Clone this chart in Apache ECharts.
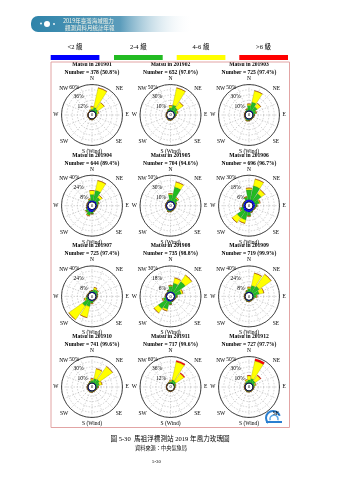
<!DOCTYPE html>
<html>
<head>
<meta charset="utf-8">
<script src="https://cdn.jsdelivr.net/npm/echarts@6/dist/echarts.min.js"></script>
<style>
html, body { margin: 0; padding: 0; background: #fff; }
#chart { width: 339px; height: 480px; }
</style>
</head>
<body>
<div id="chart"></div>
<script>
// Wind direction sectors, clockwise from north
const directions = ['N', 'NNE', 'NE', 'ENE', 'E', 'ESE', 'SE', 'SSE', 'S', 'SSW', 'SW', 'WSW', 'W', 'WNW', 'NW', 'NNW'];
// Beaufort speed classes
const speedClasses = ['<2 級', '2-4 級', '4-6 級', '>6 級'];
const classColors = ['#0000ff', '#22bb22', '#ffff00', '#ff0000'];
const classEdges = ['#00007a', '#0b6e0b', '#8f8f00', '#8b0000'];

const months = ['201901', '201902', '201903', '201904', '201905', '201906',
                '201907', '201908', '201909', '201910', '201911', '201912'];
const counts = [378, 652, 725, 644, 704, 696, 725, 735, 719, 741, 717, 727];
const coverage = ['50.8', '97.0', '97.4', '89.4', '94.6', '96.7', '97.4', '98.8', '99.9', '99.6', '99.6', '97.7'];
// Outer ring value (%) of each rose
const scaleMax = [60, 50, 50, 40, 50, 30, 40, 30, 40, 50, 60, 50];

// Frequency (%) per direction, one row per speed class: <2, 2-4, 4-6, >6
const m201901 = [
  [1, 1, 1, 0.8, 0.6, 0.5, 0.5, 0.6, 1, 1, 0.8, 0.6, 0.5, 0.5, 0.6, 0.8],
  [3, 8, 6, 3, 1, 0.3, 0.2, 0.3, 0.8, 0.8, 0.4, 0.2, 0, 0, 0.2, 1],
  [6, 45, 18, 3, 0.5, 0, 0, 0, 0, 0, 0, 0, 0, 0, 0, 1],
  [0, 0, 0, 0, 0, 0, 0, 0, 0, 0, 0, 0, 0, 0, 0, 0]
];
const m201902 = [
  [1.2, 1, 1, 1, 1, 0.8, 0.8, 1, 1.5, 1.5, 1, 0.8, 0.6, 0.6, 0.8, 1],
  [5, 11, 8, 4, 2, 1, 0.5, 0.5, 1, 1, 0.5, 0.3, 0.2, 0.2, 0.5, 2],
  [4, 33, 13, 2, 0.3, 0, 0, 0, 0, 0, 0, 0, 0, 0, 0, 0.5],
  [0, 0, 0, 0, 0, 0, 0, 0, 0, 0, 0, 0, 0, 0, 0, 0]
];
const m201903 = [
  [1.5, 1.5, 1.5, 1.2, 1, 1, 1, 1.2, 1.5, 1.5, 1.2, 1, 0.8, 0.8, 1, 1.2],
  [9, 16, 10, 5, 2, 1, 0.5, 0.8, 2, 2.5, 1, 0.5, 0.3, 0.3, 0.8, 3],
  [3, 22, 8, 1, 0, 0, 0, 0, 0, 0.5, 0, 0, 0, 0, 0, 0.5],
  [0, 0, 0, 0, 0, 0, 0, 0, 0, 0, 0, 0, 0, 0, 0, 0]
];
const m201904 = [
  [2, 2, 2, 1.5, 1.5, 1.5, 1.5, 2, 3.5, 4, 3, 2, 1.5, 1.5, 1.5, 2],
  [9, 16, 7, 3, 1, 0.5, 0.5, 1, 3, 5, 3, 1, 0.3, 0.3, 0.5, 2],
  [6, 15, 4, 0.5, 0, 0, 0, 0, 0, 1, 0.5, 0, 0, 0, 0, 1],
  [0, 0, 0, 0, 0, 0, 0, 0, 0, 0, 0, 0, 0, 0, 0, 0]
];
const m201905 = [
  [1.5, 1.5, 1.5, 1.5, 1.5, 1.5, 1.5, 1.5, 2, 2, 1.5, 1.5, 1.5, 1.5, 1.5, 1.5],
  [12, 27, 8, 3, 1, 0.5, 0.5, 1, 2, 2.5, 1, 0.5, 0.3, 0.3, 0.5, 2],
  [2, 10, 2, 0, 0, 0, 0, 0, 0, 0.3, 0, 0, 0, 0, 0, 0],
  [0, 0, 0, 0, 0, 0, 0, 0, 0, 0, 0, 0, 0, 0, 0, 0]
];
const m201906 = [
  [2.5, 2.5, 2.5, 2.5, 2.5, 2, 2, 2.5, 3, 3, 3, 2.5, 2, 2, 2, 2.5],
  [11, 16, 10, 5, 2, 1, 0.5, 1, 4, 9, 9, 3, 1, 0.5, 0.5, 3],
  [2, 8, 5, 1, 0, 0, 0, 0, 0.5, 4, 7, 1, 0, 0, 0, 0.5],
  [0, 0, 0, 0, 0, 0, 0, 0, 0, 0, 0, 0, 0, 0, 0, 0]
];
const m201907 = [
  [1, 1, 1, 1, 1, 1, 1, 1, 1, 1, 1, 1, 1, 0.8, 0.8, 1],
  [2, 4, 4, 2, 1, 0.5, 0.3, 0.5, 3, 9, 11, 3, 1, 0.3, 0.3, 1],
  [0, 3, 1, 0, 0, 0, 0, 0, 1, 17, 25, 2, 0, 0, 0, 0],
  [0, 0, 0, 0, 0, 0, 0, 0, 0, 0, 0, 0, 0, 0, 0, 0]
];
const m201908 = [
  [1, 1, 1, 1, 1, 1, 1, 1, 1.5, 1.5, 1.5, 1, 1, 1, 1, 1],
  [6, 10, 15, 7, 2, 0.5, 0.3, 0.5, 3, 9, 11, 3, 0.5, 0.3, 0.3, 2],
  [1, 6, 9, 2, 0, 0, 0, 0, 0, 2, 6, 1, 0, 0, 0, 0],
  [0, 0, 0, 0, 0, 0, 0, 0, 0, 0, 0, 0, 0, 0, 0, 0]
];
const m201909 = [
  [1, 1, 1, 1, 1, 0.8, 0.8, 0.8, 1, 1, 0.8, 0.8, 0.8, 0.8, 0.8, 1],
  [5, 10, 12, 9, 4, 1, 0.5, 0.5, 1, 1, 0.5, 0.3, 0.3, 0.3, 0.5, 2],
  [2, 19, 22, 7, 1, 0, 0, 0, 0, 0, 0, 0, 0, 0, 0, 0.5],
  [0, 0, 0, 0, 0, 0, 0, 0, 0, 0, 0, 0, 0, 0, 0, 0]
];
const m201910 = [
  [1, 1, 1, 1, 1, 1, 1, 1, 1.5, 1.5, 1.5, 1.5, 1.5, 1, 1, 1],
  [4, 8, 9, 6, 3, 1, 0.5, 0.5, 1, 1, 0.5, 0.3, 0.3, 0.3, 0.5, 2],
  [3, 19, 30, 5, 0.5, 0, 0, 0, 0, 0, 0, 0, 0, 0, 0, 0.5],
  [0, 0, 0, 0, 0, 0, 0, 0, 0, 0, 0, 0, 0, 0, 0, 0]
];
const m201911 = [
  [0.5, 0.5, 0.5, 0.5, 0.5, 0.4, 0.4, 0.4, 0.5, 0.5, 0.4, 0.4, 0.4, 0.4, 0.4, 0.5],
  [3, 7, 6, 2, 1, 0.3, 0.2, 0.2, 0.3, 0.3, 0.2, 0, 0, 0, 0.2, 1],
  [3, 42, 22, 1, 0, 0, 0, 0, 0, 0, 0, 0, 0, 0, 0, 0.5],
  [0, 3, 2, 0, 0, 0, 0, 0, 0, 0, 0, 0, 0, 0, 0, 0]
];
const m201912 = [
  [1, 1, 1, 1, 1, 1, 1, 1, 1, 1, 1, 1, 1, 1, 1, 1],
  [5, 8, 6, 3, 1, 0.5, 0.3, 0.5, 1, 1, 0.5, 0.3, 0.3, 0.3, 1, 3],
  [8, 34, 12, 2, 0, 0, 0, 0, 0, 0, 0, 0, 0, 0, 0.5, 3],
  [0, 4, 1, 0, 0, 0, 0, 0, 0, 0, 0, 0, 0, 0, 0, 0]
];
const monthValues = [m201901, m201902, m201903, m201904, m201905, m201906,
                     m201907, m201908, m201909, m201910, m201911, m201912];

// Page layout
const colX = [92, 170.5, 249];
const rowY = [115, 205.7, 296.4, 387];
const R_OUT = 30.5;
const R_IN = 4;
const SERIF = "'Liberation Serif', 'Times New Roman', serif";
const CJK = "'Liberation Serif', 'Noto Sans CJK TC', serif";
const GRID_LINE = { color: '#a0a0a0', width: 0.45, type: [1.5, 1.5] };

const polar = [], angleAxis = [], radiusAxis = [], series = [], graphic = [];

months.forEach((m, i) => {
  const cx = colX[i % 3];
  const cy = rowY[Math.floor(i / 3)];
  const M = scaleMax[i];
  const step = M / 5;
  const gridIdx = polar.length;

  // grid rings, spokes and ring labels
  polar.push({ center: [cx, cy], radius: [R_IN, R_OUT] });
  angleAxis.push({
    polarIndex: gridIdx, type: 'value', min: 0, max: 360, interval: 22.5,
    startAngle: 112.5, clockwise: true,
    axisLine: { show: true, lineStyle: { color: '#000', width: 0.7 } },
    axisTick: { show: false }, axisLabel: { show: false },
    splitLine: { show: true, lineStyle: GRID_LINE }
  });
  radiusAxis.push({
    polarIndex: gridIdx, type: 'value', min: 0, max: M, interval: step,
    axisLine: { show: false }, axisTick: { show: false },
    splitLine: { show: true, lineStyle: GRID_LINE },
    axisLabel: {
      show: true, showMinLabel: false, showMaxLabel: true, margin: 1,
      fontSize: 5.5, fontFamily: SERIF, color: '#000',
      formatter: v => (Math.round(v / step) % 2 === 1 ? v + '%' : '')
    }
  });

  // stacked speed-class bars
  const barIdx = polar.length;
  polar.push({ center: [cx, cy], radius: [R_IN, R_OUT] });
  angleAxis.push({
    polarIndex: barIdx, type: 'category', data: directions,
    startAngle: 101.25, clockwise: true,
    axisLine: { show: false }, axisTick: { show: false }, splitLine: { show: false },
    axisLabel: {
      interval: 1, margin: 3, fontSize: 5.5, fontFamily: SERIF, color: '#000',
      formatter: v => (v === 'S' ? 'S (Wind)' : v)
    }
  });
  radiusAxis.push({ polarIndex: barIdx, type: 'value', min: 0, max: M, show: false });

  monthValues[i].forEach((vals, c) => {
    series.push({
      type: 'bar', coordinateSystem: 'polar', polarIndex: barIdx,
      name: speedClasses[c], stack: 'rose' + i, data: vals,
      barCategoryGap: '12%', silent: true,
      itemStyle: { color: classColors[c], borderColor: classEdges[c], borderWidth: 0.3 }
    });
  });

  // calm circle at the centre
  const calmIdx = polar.length;
  polar.push({ center: [cx, cy], radius: [0, R_IN] });
  angleAxis.push({
    polarIndex: calmIdx, type: 'value', min: 0, max: 360, startAngle: 90,
    axisLine: { show: true, lineStyle: { color: '#000', width: 0.6 } },
    axisTick: { show: false }, axisLabel: { show: false }, splitLine: { show: false }
  });
  radiusAxis.push({ polarIndex: calmIdx, type: 'value', min: 0, max: 1, show: false });

  graphic.push({
    type: 'text', x: cx, y: cy, z: 10,
    style: { text: '0', fontSize: 4.5, fontFamily: SERIF, fill: '#000',
             align: 'center', verticalAlign: 'middle', textAlign: 'center', textVerticalAlign: 'middle' }
  });
  graphic.push({
    type: 'text', x: cx, y: cy - 50.5,
    style: { text: 'Matsu in ' + m, fontSize: 5.6, fontWeight: 'bold', fontFamily: SERIF, fill: '#000',
             align: 'center', verticalAlign: 'middle', textAlign: 'center', textVerticalAlign: 'middle' }
  });
  graphic.push({
    type: 'text', x: cx, y: cy - 42.5,
    style: { text: 'Number = ' + counts[i] + ' (' + coverage[i] + '%)', fontSize: 5.6, fontWeight: 'bold',
             fontFamily: SERIF, fill: '#000',
             align: 'center', verticalAlign: 'middle', textAlign: 'center', textVerticalAlign: 'middle' }
  });
});

// Header banner
graphic.push({
  type: 'rect', shape: { x: 31, y: 16, width: 162, height: 16, r: [7, 0, 0, 7] },
  style: { fill: new echarts.graphic.LinearGradient(0, 0, 1, 0, [
    { offset: 0, color: '#2f84aa' }, { offset: 0.55, color: '#5b9cbb' }, { offset: 1, color: 'rgba(255,255,255,0)' }
  ]) }
});
graphic.push({ type: 'circle', shape: { cx: 47, cy: 24, r: 3 }, style: { fill: '#fff' } });
graphic.push({ type: 'circle', shape: { cx: 41, cy: 23.5, r: 0.9 }, style: { fill: '#fff' } });
graphic.push({ type: 'circle', shape: { cx: 54, cy: 24, r: 0.9 }, style: { fill: '#fff' } });
graphic.push({
  type: 'text', x: 63, y: 21,
  style: { text: '2019年臺灣海域風力', fontSize: 5.5, fontFamily: "'Noto Sans CJK TC', sans-serif", fill: '#f4f4e8',
           verticalAlign: 'middle', textVerticalAlign: 'middle' }
});
graphic.push({
  type: 'text', x: 65, y: 27.5,
  style: { text: '觀測資料月統計年報', fontSize: 5.5, fontFamily: "'Noto Sans CJK TC', sans-serif", fill: '#f4f4e8',
           verticalAlign: 'middle', textVerticalAlign: 'middle' }
});

// Speed-class key
const keyX = [50.7, 114, 176.7, 239.3];
speedClasses.forEach((name, c) => {
  graphic.push({ type: 'rect', shape: { x: keyX[c], y: 55, width: 48.7, height: 5 }, style: { fill: classColors[c] } });
  graphic.push({
    type: 'text', x: keyX[c] + 24.3, y: 47.7,
    style: { text: name, fontSize: 6.5, fontFamily: CJK, fill: '#000',
             align: 'center', verticalAlign: 'middle', textAlign: 'center', textVerticalAlign: 'middle' }
  });
});

// Panel frame
graphic.push({
  type: 'rect', shape: { x: 51, y: 62, width: 238.5, height: 365.5 },
  style: { fill: 'none', stroke: '#e2a4a4', lineWidth: 1 }
});

// Agency mark in the panel corner
graphic.push({ type: 'arc', shape: { cx: 273, cy: 418, r: 7, startAngle: Math.PI * 0.75, endAngle: Math.PI * 1.9 }, style: { stroke: '#2a7fd0', lineWidth: 2, fill: 'none' } });
graphic.push({ type: 'arc', shape: { cx: 274, cy: 419, r: 4, startAngle: Math.PI * 0.9, endAngle: Math.PI * 2.1 }, style: { stroke: '#5aa7e8', lineWidth: 1.5, fill: 'none' } });
graphic.push({ type: 'rect', shape: { x: 266, y: 421, width: 16, height: 2 }, style: { fill: '#2a7fd0' } });

// Caption
graphic.push({
  type: 'text', x: 170, y: 439,
  style: { text: '圖 5-30  馬祖浮標測站 2019 年風力玫瑰圖', fontSize: 6.6, fontFamily: CJK, fill: '#000',
           align: 'center', verticalAlign: 'middle', textAlign: 'center', textVerticalAlign: 'middle' }
});
graphic.push({
  type: 'text', x: 161, y: 448.5,
  style: { text: '資料來源：中央氣象局', fontSize: 5.2, fontFamily: CJK, fill: '#000',
           align: 'center', verticalAlign: 'middle', textAlign: 'center', textVerticalAlign: 'middle' }
});
graphic.push({
  type: 'text', x: 156.5, y: 461.5,
  style: { text: '5-30', fontSize: 4.8, fontFamily: SERIF, fill: '#000',
           align: 'center', verticalAlign: 'middle', textAlign: 'center', textVerticalAlign: 'middle' }
});

const chart = echarts.init(document.getElementById('chart'), null, { renderer: 'canvas' });
chart.setOption({
  animation: false,
  backgroundColor: '#fff',
  polar, angleAxis, radiusAxis, series, graphic
});
</script>
</body>
</html>
